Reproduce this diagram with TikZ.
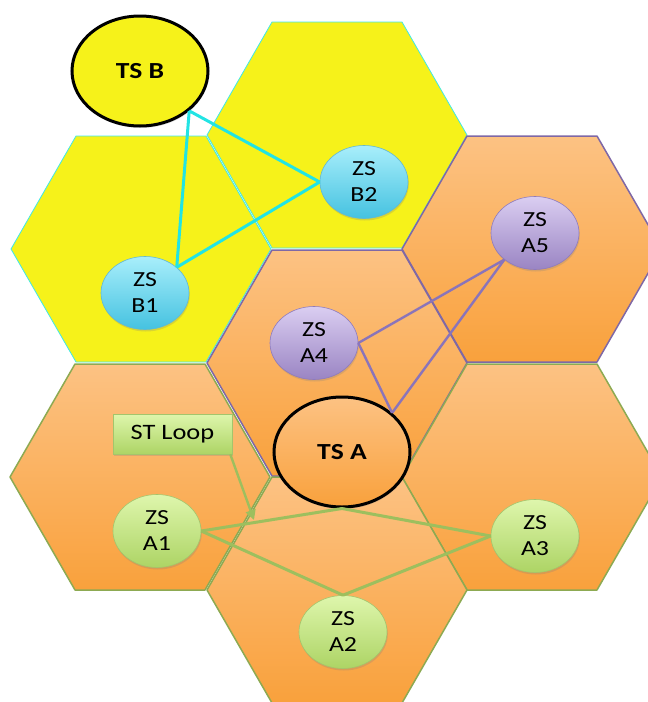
\documentclass[tikz,border=0pt]{standalone}
\usepackage{fontspec}
\setmainfont{Carlito}[FakeStretch=1.2]
\usetikzlibrary{shapes.geometric,shadows,arrows.meta}
\definecolor{hexyel}{HTML}{F6F21A}
\definecolor{hexcyan}{HTML}{3EE8E8}
\definecolor{orgtop}{HTML}{FCC283}
\definecolor{orgbot}{HTML}{F9A13C}
\definecolor{hexpurp}{HTML}{7F68A6}
\definecolor{hexgrn}{HTML}{8DAA52}
\definecolor{lncyan}{HTML}{22E4E4}
\definecolor{lnpurp}{HTML}{8A74BA}
\definecolor{lngrn}{HTML}{9DBF5E}
\definecolor{bluetop}{HTML}{A8EEFB}
\definecolor{bluebot}{HTML}{45C2E0}
\definecolor{bluedraw}{HTML}{62B8D4}
\definecolor{purtop}{HTML}{DACDF1}
\definecolor{purbot}{HTML}{9A85C3}
\definecolor{purdraw}{HTML}{8E7BBE}
\definecolor{grntop}{HTML}{DEF6AC}
\definecolor{grnbot}{HTML}{ADD465}
\definecolor{grndraw}{HTML}{A3C56C}
\newcommand\hexcell[3]{\path[#3,shift={(#1,#2)}] (-130,0) -- (-65,-113) -- (65,-113) -- (130,0) -- (65,113) -- (-65,113) -- cycle;}
\begin{document}
\begin{tikzpicture}[x=1pt,y=-1pt,
  yhex/.style={fill=hexyel,draw=hexcyan,line width=0.8pt,line join=round},
  phex/.style={top color=orgtop,bottom color=orgbot,draw=hexpurp,line width=1.5pt,line join=round},
  ghex/.style={top color=orgtop,bottom color=orgbot,draw=hexgrn,line width=1.5pt,line join=round},
  shad/.style={drop shadow={opacity=0.25,shadow xshift=0.8pt,shadow yshift=-2pt}},
  zs/.style={ellipse,minimum width=88pt,minimum height=73pt,inner sep=0pt,align=center,
    font=\fontsize{21.5}{26}\selectfont,line width=0.6pt,shad},
  zsblue/.style={zs,top color=bluetop,bottom color=bluebot,draw=bluedraw},
  zspurp/.style={zs,top color=purtop,bottom color=purbot,draw=purdraw},
  zsgrn/.style={zs,top color=grntop,bottom color=grnbot,draw=grndraw},
  tsnode/.style={ellipse,minimum width=136pt,minimum height=110pt,inner sep=0pt,draw=black,
    line width=3pt,font=\bfseries\fontsize{23}{26}\selectfont,shad},
  loopbox/.style={rectangle,minimum width=119pt,minimum height=40pt,inner sep=0pt,
    top color=grntop,bottom color=grnbot,draw=grndraw,line width=0.6pt,
    font=\fontsize{22}{26}\selectfont,shad},
  cyanln/.style={draw=lncyan,line width=3pt,line join=round},
  purpln/.style={draw=lnpurp,line width=2.4pt,line join=round},
  grnln/.style={draw=lngrn,line width=3pt,line join=round}
]
\useasboundingbox (0,0) rectangle (648,702);
\clip (0,0) rectangle (648,702);
% cells
\hexcell{337}{135}{yhex}
\hexcell{141}{249}{yhex}
\hexcell{532}{249}{phex}
\hexcell{337}{363}{phex}
\hexcell{140}{477}{ghex}
\hexcell{532}{477}{ghex}
\hexcell{337}{590}{ghex}
% stations
\node[tsnode,fill=hexyel] (tsb) at (140,71) {TS B};
\node[tsnode,top color=orgtop,bottom color=orgbot] (tsa) at (342,452) {TS A};
\node[zsblue] (b1) at (145,293) {ZS\\B1};
\node[zsblue] (b2) at (364,182) {ZS\\B2};
\node[zspurp] (a4) at (314,343) {ZS\\A4};
\node[zspurp] (a5) at (535,233) {ZS\\A5};
\node[zsgrn] (a1) at (157,531) {ZS\\A1};
\node[zsgrn] (a3) at (535,536) {ZS\\A3};
\node[zsgrn] (a2) at (343,632) {ZS\\A2};
\node[loopbox] (loop) at (172.5,434) {ST Loop};
% B links
\draw[cyanln] (tsb.-39) -- (b2.west);
\draw[cyanln] (tsb.-39) -- (b1.39);
\draw[cyanln] (b1.39) -- (b2.west);
% A4/A5 links
\draw[purpln] (a4.east) -- (a5.221);
\draw[purpln] (a5.221) -- (tsa.38);
\draw[purpln] (a4.east) -- (tsa.38);
% ST loop
\draw[grnln] (a1.east) -- (tsa.south);
\draw[grnln] (tsa.south) -- (a3.west);
\draw[grnln] (a3.west) -- (a2.north);
\draw[grnln] (a2.north) -- (a1.east);
\coordinate (looptip) at (254,520);
\draw[draw=lngrn,line width=2.4pt,-{Triangle[length=10pt,width=10pt]}] ([xshift=-2pt]loop.south east) -- (looptip);
\end{tikzpicture}
\end{document}
